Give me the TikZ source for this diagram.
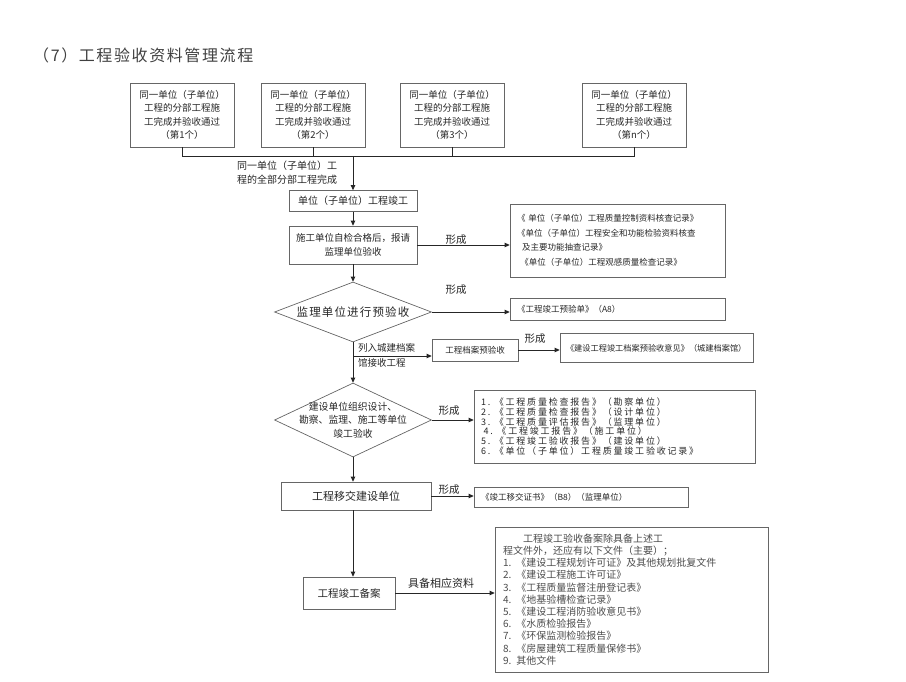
\documentclass[tikz,border=0pt]{standalone}
\usepackage{fontspec}
\newfontfamily\cjk{Noto Sans CJK SC}
\newfontfamily\cjkt[LetterSpace=10]{Noto Sans CJK SC}
\newfontfamily\cjkw[LetterSpace=20]{Noto Sans CJK SC}
\newcommand{\fsz}[2]{\fontsize{#1}{#2}\selectfont}
\usetikzlibrary{shapes.geometric,arrows.meta}
\tikzset{
  box/.style={draw=black!60, line width=0.7pt, align=center, text=black!85, inner sep=1pt},
  rbox/.style={box, align=left, inner xsep=7pt},
  dia/.style={diamond, draw=black!60, line width=0.7pt, align=center, text=black!85, inner sep=-7pt},
  lbl/.style={text=black!85, inner sep=0pt},
  link/.style={black!85, line width=0.9pt},
  arr/.style={link, -{Triangle[length=5pt,width=4.5pt]}}
}

\begin{document}
\begin{tikzpicture}[x=1pt,y=-1pt]
\useasboundingbox (0,0) rectangle (906,682);

\node[lbl, anchor=west, font=\cjkt\fsz{16}{18}, text=black!75] (T) at (33,55) {（7）工程验收资料管理流程};

% top row
\node[box, minimum width=104pt, minimum height=64pt, font=\cjk\fsz{9.5}{13.5}] (P1) at (182,115)
  {同一单位（子单位）\\工程的分部工程施\\工完成并验收通过\\（第1个）};
\node[box, minimum width=104pt, minimum height=64pt, font=\cjk\fsz{9.5}{13.5}] (P2) at (313,115)
  {同一单位（子单位）\\工程的分部工程施\\工完成并验收通过\\（第2个）};
\node[box, minimum width=104pt, minimum height=64pt, font=\cjk\fsz{9.5}{13.5}] (P3) at (452,115)
  {同一单位（子单位）\\工程的分部工程施\\工完成并验收通过\\（第3个）};
\node[box, minimum width=104pt, minimum height=64pt, font=\cjk\fsz{9.5}{13.5}] (PN) at (634,115)
  {同一单位（子单位）\\工程的分部工程施\\工完成并验收通过\\（第n个）};
\coordinate (bus) at (353,156);
\node[lbl, anchor=north west, align=left, font=\cjk\fsz{10}{14}] (L0) at (237,161)
  {同一单位（子单位）工\\程的全部分部工程完成};

% main column
\node[box, minimum width=128pt, minimum height=21pt, font=\cjk\fsz{10}{12}] (DW) at (353,201) {单位（子单位）工程竣工};
\node[box, minimum width=128pt, minimum height=38pt, font=\cjk\fsz{9.5}{14}] (ZJ) at (353,245)
  {施工单位自检合格后，报请\\监理单位验收};
\node[dia, aspect=2.6, minimum width=157pt, minimum height=60pt, font=\cjkt\fsz{11.5}{13}] (YY) at (353,312) {监理单位进行预验收};
\node[box, minimum width=86pt, minimum height=22pt, font=\cjk\fsz{8.5}{10}] (DA) at (475,350) {工程档案预验收};
\coordinate (br) at (353,356);
\node[lbl, anchor=west, align=left, font=\cjk\fsz{9.5}{15}] (L1) at (358,355) {列入城建档案\\馆接收工程};
\node[dia, aspect=2.12, minimum width=157pt, minimum height=74pt, font=\cjk\fsz{9.8}{13.5}] (JY) at (353,420)
  {建设单位组织设计、\\勘察、监理、施工等单位\\竣工验收};
\node[box, minimum width=150pt, minimum height=28pt, font=\cjk\fsz{11}{13}] (YJ) at (356,496) {工程移交建设单位};
\node[box, minimum width=92pt, minimum height=32pt, font=\cjk\fsz{10.5}{12}] (BA) at (349,593) {工程竣工备案};

% records
\node[rbox, text width=201pt, minimum height=73pt, font=\cjk\fsz{8.5}{14.5}] (R1) at (617.5,240.5)
  {《 单位（子单位）工程质量控制资料核查记录》\\《单位（子单位）工程安全和功能检验资料核查\\\hspace*{0.6em}及主要功能抽查记录》\\\hspace*{0.4em}《单位（子单位）工程观感质量检查记录》};
\node[rbox, text width=201pt, minimum height=22pt, font=\cjk\fsz{8.5}{10}] (R2) at (617.5,309) {《工程竣工预验单》（A8）};
\node[rbox, inner xsep=6pt, text width=181pt, minimum height=29pt, font=\cjk\fsz{8.2}{10}] (R3) at (656.5,348)
  {《建设工程竣工档案预验收意见》（城建档案馆）};
\node[rbox, text width=267pt, minimum height=73pt, font=\cjkw\fsz{9}{9.8}] (R4) at (614.5,426.5)
  {1. 《工程质量检查报告》（勘察单位）\\2. 《工程质量检查报告》（设计单位）\\3. 《工程质量评估报告》（监理单位）\\\hspace*{0.3em}4. 《工程竣工报告》（施工单位）\\5. 《工程竣工验收报告》（建设单位）\\6. 《单位（子单位）工程质量竣工验收记录》};
\node[rbox, text width=200pt, minimum height=20pt, font=\cjk\fsz{8.5}{10}] (R5) at (581,497) {《竣工移交证书》（B8）（监理单位）};
\node[rbox, inner xsep=8pt, text width=257pt, minimum height=145pt, font=\cjk\fsz{10}{12.2}, text=black!70] (R6) at (631.5,599.5)
  {\hspace*{2em}工程竣工验收备案除具备上述工\\程文件外，还应有以下文件（主要）；\\1. 《建设工程规划许可证》及其他规划批复文件\\2. 《建设工程施工许可证》\\3. 《工程质量监督注册登记表》\\4. 《地基验槽检查记录》\\5. 《建设工程消防验收意见书》\\6. 《水质检验报告》\\7. 《环保监测检验报告》\\8. 《房屋建筑工程质量保修书》\\9. 其他文件};

\node[lbl, font=\cjk\fsz{10.5}{12}] (X1) at (456,240) {形成};
\node[lbl, font=\cjk\fsz{10.5}{12}] (X2) at (456,290) {形成};
\node[lbl, font=\cjk\fsz{10.5}{12}] (X3) at (535,339) {形成};
\node[lbl, font=\cjk\fsz{10.5}{12}] (X4) at (449,411) {形成};
\node[lbl, font=\cjk\fsz{10.5}{12}] (X5) at (449,490) {形成};
\node[lbl, font=\cjk\fsz{11}{13}] (X6) at (441,583) {具备相应资料};

\draw[link] (P1.south) -- (P1.south |- bus) -- (PN.south |- bus) -- (PN.south);
\draw[link] (P2.south) -- (P2.south |- bus);
\draw[link] (P3.south) -- (P3.south |- bus);
\draw[arr] (bus) -- (DW.north);

\draw[arr] (DW) -- (ZJ);
\draw[arr] (ZJ) -- (YY);
\draw[arr] (YY) -- (JY);
\draw[arr] (br) -- (br -| DA.west);
\draw[arr] (JY.south) -- (JY.south |- YJ.north);
\draw[arr] (JY.south |- YJ.south) -- (JY.south |- BA.north);

\draw[arr] (ZJ.east) -- (ZJ.east -| R1.west);
\draw[arr] (YY.east) -- (YY.east -| R2.west);
\draw[arr] (DA.east) -- (DA.east -| R3.west);
\draw[arr] (JY.east) -- (JY.east -| R4.west);
\draw[arr] (YJ.east) -- (YJ.east -| R5.west);
\draw[arr] (BA.east) -- (BA.east -| R6.west);

\end{tikzpicture}
\end{document}
